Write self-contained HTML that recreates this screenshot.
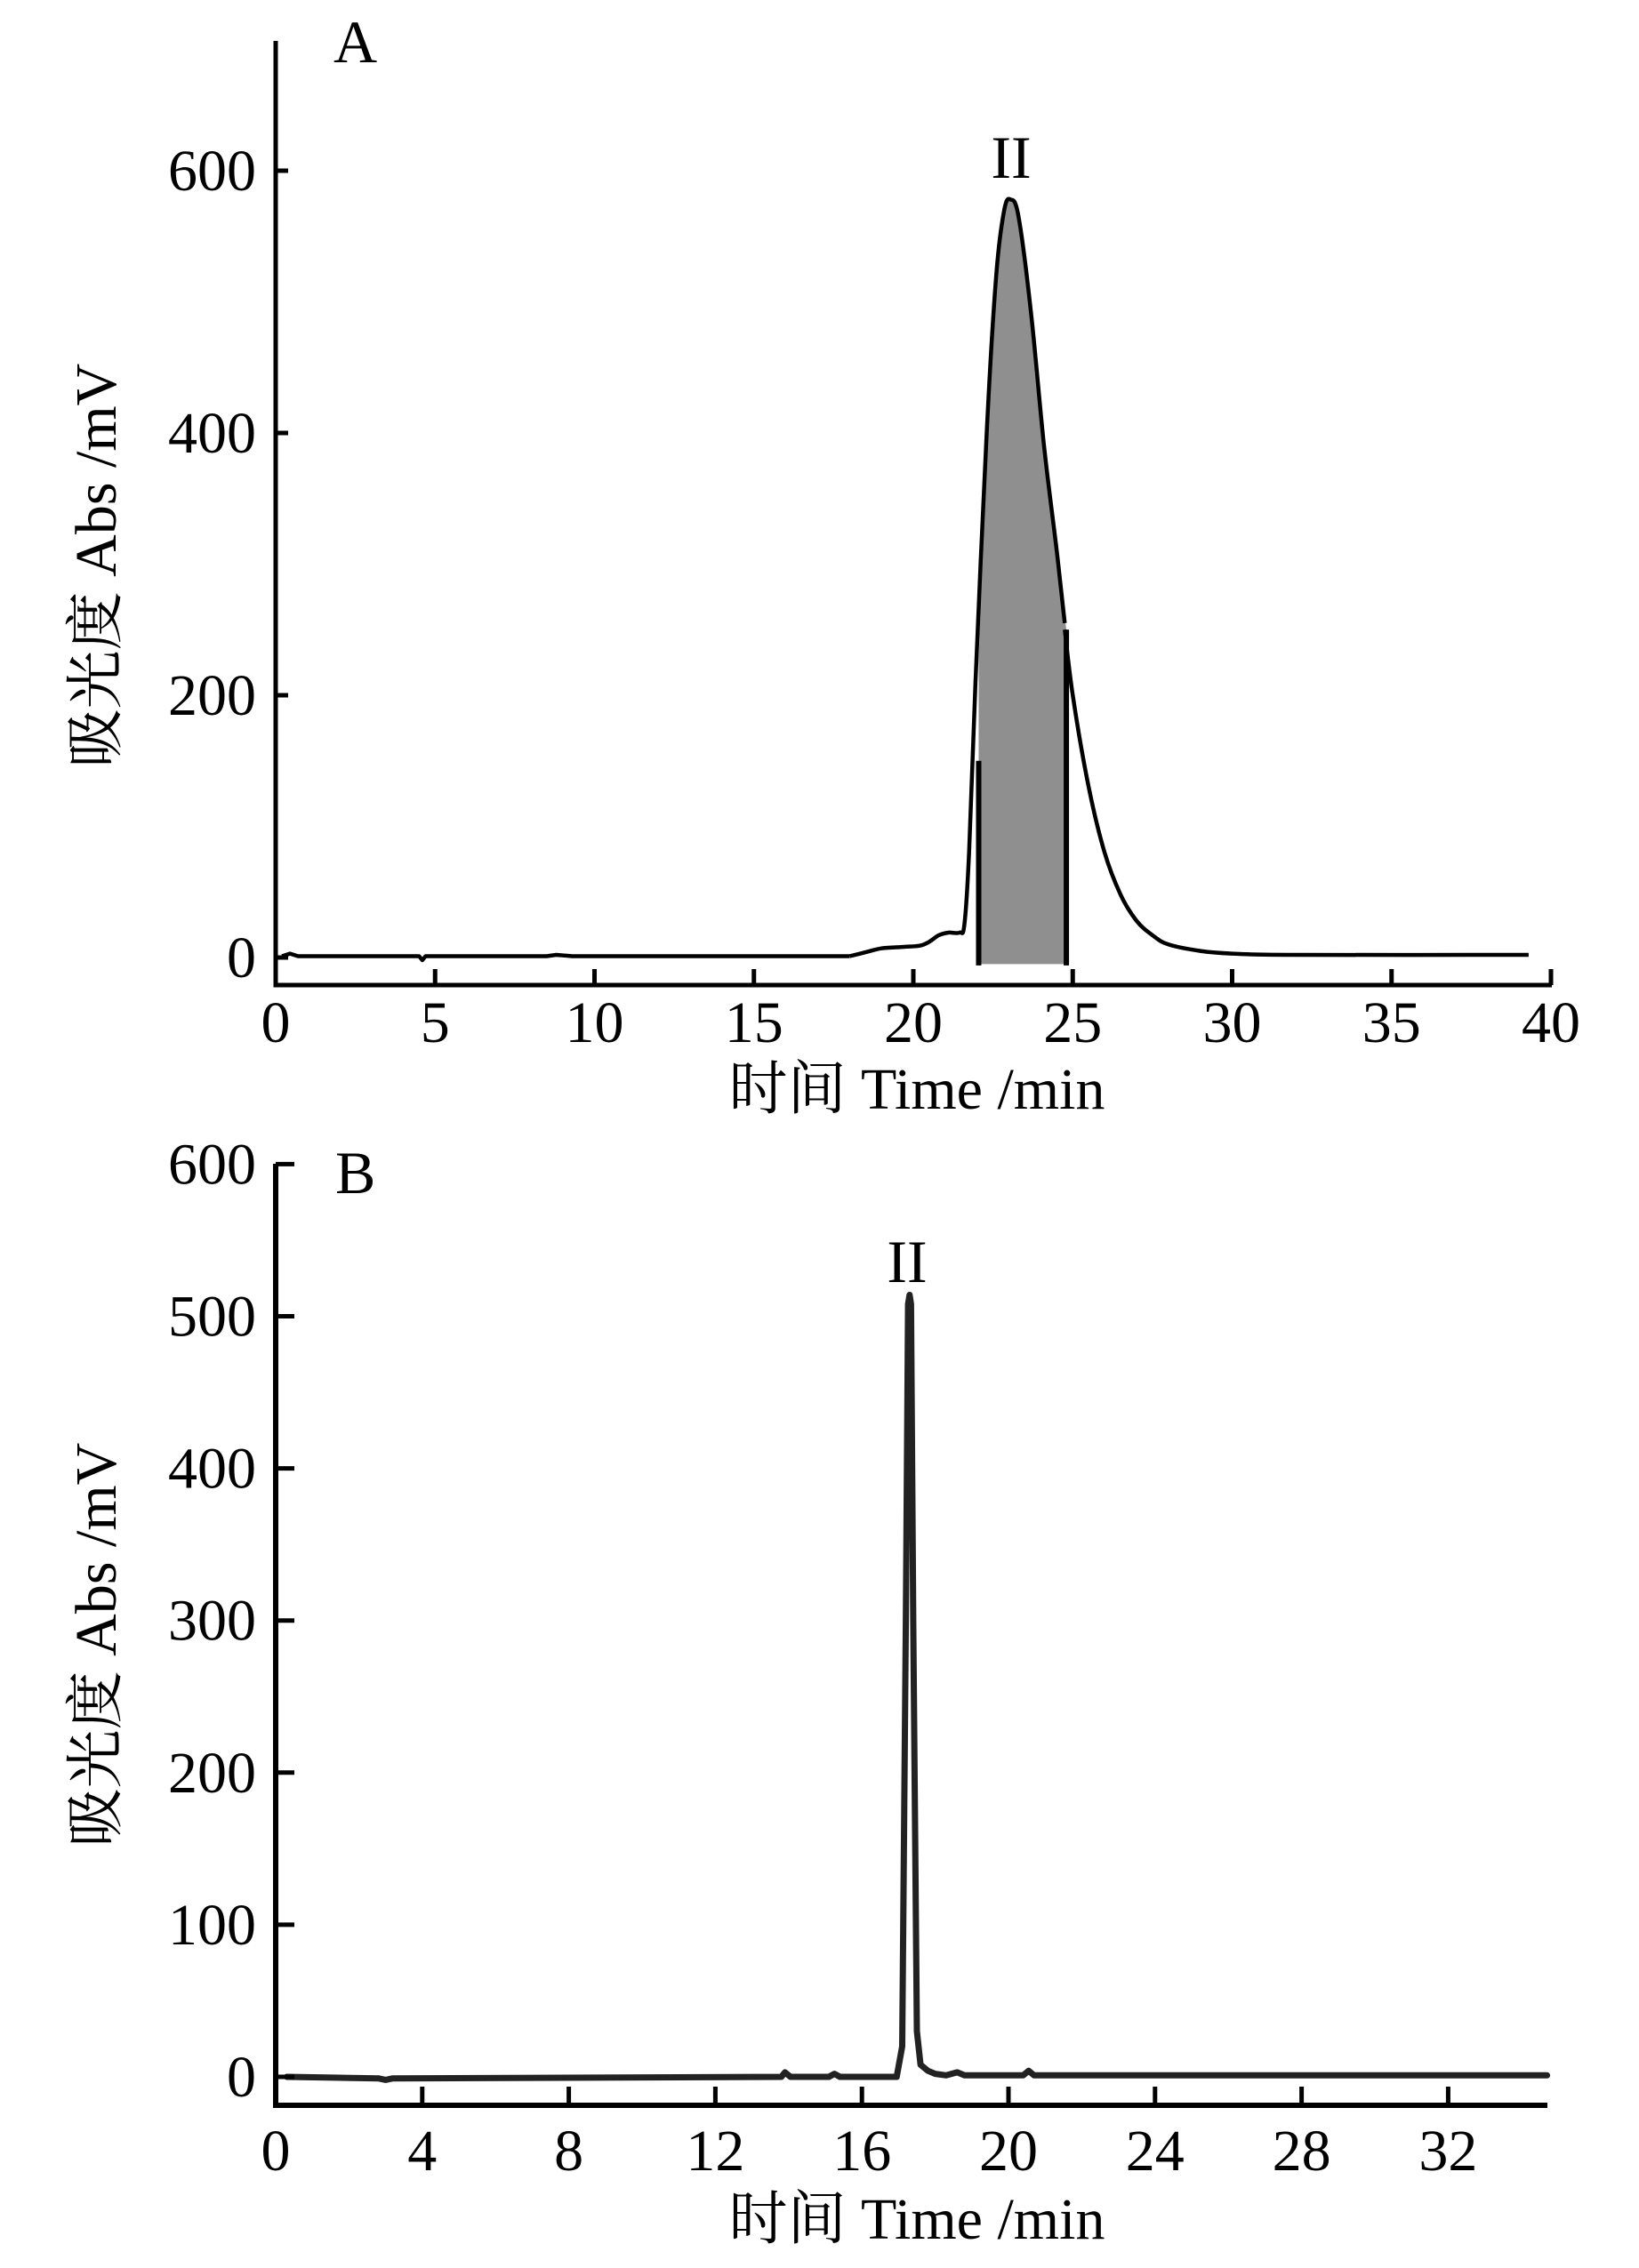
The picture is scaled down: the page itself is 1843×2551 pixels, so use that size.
<!DOCTYPE html>
<html><head><meta charset="utf-8"><style>
html,body{margin:0;padding:0;background:#fff;}
svg{display:block;}
text{font-family:"Liberation Serif","Noto Serif CJK SC",serif;fill:#000;}
</style></head><body>
<svg id="s" width="1843" height="2551" viewBox="0 0 1843 2551" xmlns="http://www.w3.org/2000/svg">
<g id="A"></g><g id="B"></g>
</svg>
<script>
const NS="http://www.w3.org/2000/svg";
function el(p,tag,attrs,txt){const e=document.createElementNS(NS,tag);for(const k in attrs)e.setAttribute(k,attrs[k]);if(txt!==undefined)e.textContent=txt;p.appendChild(e);return e;}
function smooth(pts){let d="M"+pts[0][0].toFixed(1)+","+pts[0][1].toFixed(1);
 for(let i=0;i<pts.length-1;i++){const p0=pts[Math.max(i-1,0)],p1=pts[i],p2=pts[i+1],p3=pts[Math.min(i+2,pts.length-1)];
 const c1=[p1[0]+(p2[0]-p0[0])/6,p1[1]+(p2[1]-p0[1])/6],c2=[p2[0]-(p3[0]-p1[0])/6,p2[1]-(p3[1]-p1[1])/6];
 d+="C"+c1[0].toFixed(1)+","+c1[1].toFixed(1)+" "+c2[0].toFixed(1)+","+c2[1].toFixed(1)+" "+p2[0].toFixed(1)+","+p2[1].toFixed(1);}
 return d;}
// Panel A
(function(){const g=document.getElementById("A");
 const X=t=>310+t*35.85, Y=v=>1077-v*1.475;
 const base=[[0.2,1],[0.45,3],[0.7,1],[4.5,1],[4.6,-2],[4.7,1],[8.5,1],[8.8,2],[9.3,1],[18,1]];
 const main=[[18,1],[18.5,4],[19,7],[19.6,8],[20.2,9],[20.5,12],[20.8,17],[21.1,19],[21.45,19],[21.6,25],[21.75,80],[21.95,210],[22.3,400],[22.6,520],[22.85,570],[23.05,578],[23.3,565],[23.7,490],[24.1,390],[24.5,310],[24.75,255]];
 const tail=[[24.75,250],[25,200],[25.5,130],[26,80],[26.5,48],[27,28],[27.5,17],[28,10],[29,5],[30,3],[32,2],[39.3,2]];
 const peak=[[22.05,225],[22.3,400],[22.6,520],[22.85,570],[23.05,578],[23.3,565],[23.7,490],[24.1,390],[24.5,310],[24.8,250]];
 let fd="M"+X(22.05)+","+Y(-5)+" L"+smooth(peak.map(p=>[X(p[0]),Y(p[1])])).slice(1)+" L"+X(24.8)+","+Y(-5)+"Z";
 el(g,"path",{d:fd,fill:"#8f8f8f",stroke:"none"});
 el(g,"line",{x1:X(22.05),y1:Y(-6),x2:X(22.05),y2:Y(150),stroke:"#000","stroke-width":6});
 el(g,"line",{x1:X(24.8),y1:Y(-6),x2:X(24.8),y2:Y(250),stroke:"#000","stroke-width":6});
 el(g,"path",{d:"M"+base.map(p=>X(p[0]).toFixed(1)+","+Y(p[1]).toFixed(1)).join(" L"),fill:"none",stroke:"#000","stroke-width":4.5,"stroke-linejoin":"round"});
 el(g,"path",{d:smooth(main.map(p=>[X(p[0]),Y(p[1])])),fill:"none",stroke:"#000","stroke-width":4.5,"stroke-linejoin":"round"});
 el(g,"path",{d:smooth(tail.map(p=>[X(p[0]),Y(p[1])])),fill:"none",stroke:"#000","stroke-width":4.5});
 el(g,"path",{d:"M310,46 L310,1108 L1745,1108",fill:"none",stroke:"#000","stroke-width":5});
 for(let v=0;v<=600;v+=200){el(g,"line",{x1:310,y1:Y(v),x2:324,y2:Y(v),stroke:"#000","stroke-width":5});
  el(g,"text",{x:288,y:Y(v)+22,"font-size":66,"text-anchor":"end"},String(v));}
 for(let t=0;t<=40;t+=5){if(t>0)el(g,"line",{x1:X(t),y1:1108,x2:X(t),y2:1090,stroke:"#000","stroke-width":5});
  el(g,"text",{x:X(t),y:1172,"font-size":66,"text-anchor":"middle"},String(t));}
 el(g,"text",{x:1031,y:1247,"font-size":66,"text-anchor":"middle"},"时间 Time /min");
 el(g,"text",{x:0,y:0,"font-size":66,"text-anchor":"middle",transform:"translate(130,636) rotate(-90)"},"吸光度 Abs /mV");
 el(g,"text",{x:375,y:70,"font-size":68},"A");
 el(g,"text",{x:1137,y:200,"font-size":68,"text-anchor":"middle"},"II");
})();
// Panel B
(function(){const g=document.getElementById("B");
 const X=t=>310+t*41.2, Y=v=>2336-v*1.711;
 const pts=[[0.3,0],[2.8,-1],[3.0,-2],[3.2,-1],[13.8,0],[13.9,3],[14.05,0],[15.1,0],[15.25,2],[15.4,0],[16.95,0],[17.1,20],[17.2,300],[17.26,508],[17.3,514],[17.34,508],[17.4,300],[17.5,30],[17.6,8],[17.8,4],[18.0,2],[18.3,1],[18.6,3],[18.8,1],[20.4,1],[20.55,4],[20.7,1],[34.7,1]];
 let d="M"+pts.map(p=>X(p[0]).toFixed(1)+","+Y(p[1]).toFixed(1)).join(" L");
 el(g,"path",{d:d,fill:"none",stroke:"#222","stroke-width":7,"stroke-linejoin":"round","stroke-linecap":"round"});
 el(g,"path",{d:"M310,1309 L310,2368 L1740,2368",fill:"none",stroke:"#000","stroke-width":6});
 for(let v=0;v<=600;v+=100){el(g,"line",{x1:310,y1:Y(v),x2:331,y2:Y(v),stroke:"#000","stroke-width":5});
  el(g,"text",{x:288,y:Y(v)+22,"font-size":66,"text-anchor":"end"},String(v));}
 for(let t=0;t<=32;t+=4){if(t>0)el(g,"line",{x1:X(t),y1:2368,x2:X(t),y2:2347,stroke:"#000","stroke-width":5});
  el(g,"text",{x:X(t),y:2441,"font-size":66,"text-anchor":"middle"},String(t));}
 el(g,"text",{x:1031,y:2518,"font-size":66,"text-anchor":"middle"},"时间 Time /min");
 el(g,"text",{x:0,y:0,"font-size":66,"text-anchor":"middle",transform:"translate(130,1850) rotate(-90)"},"吸光度 Abs /mV");
 el(g,"text",{x:377,y:1342,"font-size":68},"B");
 el(g,"text",{x:1020,y:1442,"font-size":68,"text-anchor":"middle"},"II");
})();
</script>
</body></html>
